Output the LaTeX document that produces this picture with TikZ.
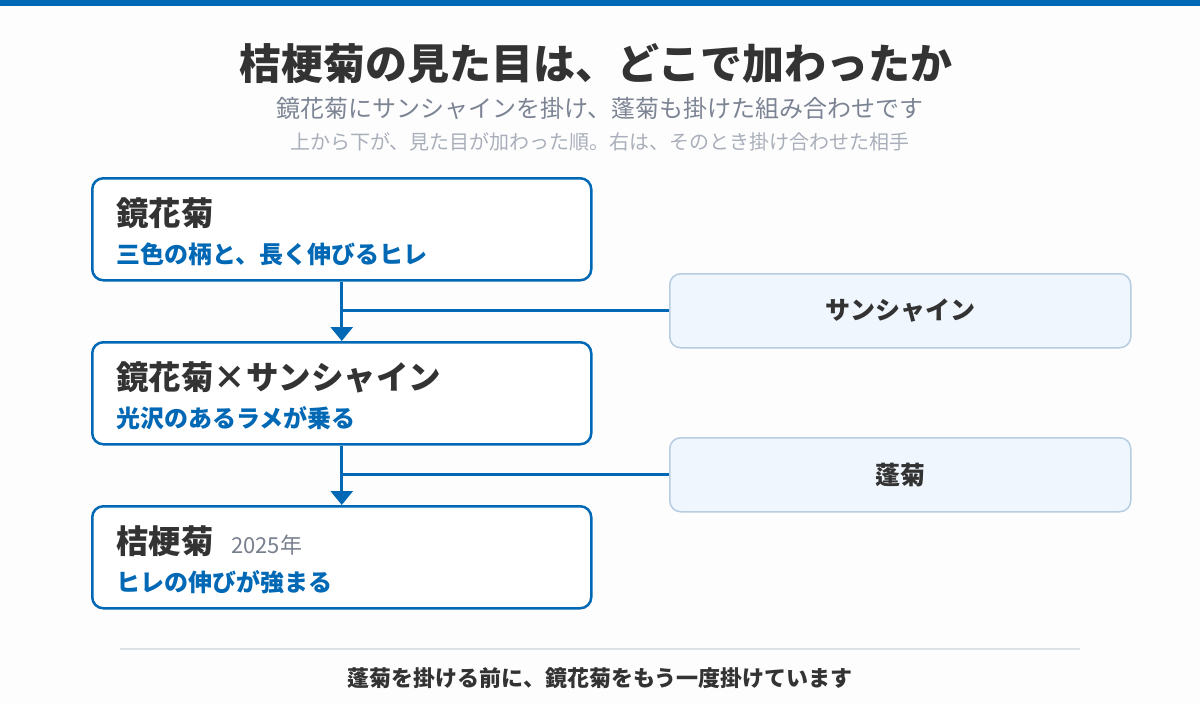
\documentclass[tikz,border=0pt]{standalone}
\usepackage{fontspec}
\setmainfont{Noto Sans CJK JP}
\usetikzlibrary{arrows.meta}
\definecolor{mainblue}{RGB}{0,104,180}
\definecolor{darktext}{RGB}{51,51,51}
\definecolor{subgray}{RGB}{124,132,148}
\definecolor{lightgray}{RGB}{169,175,186}
\definecolor{yeargray}{RGB}{120,128,142}
\definecolor{sidefill}{RGB}{239,246,253}
\definecolor{sideborder}{RGB}{183,205,226}
\definecolor{sepline}{RGB}{221,225,230}
\definecolor{bgc}{RGB}{253,253,253}
\tikzset{
  mainbox/.style={draw=mainblue, line width=2.5pt, rounded corners=11pt, fill=white,
    minimum width=499pt, minimum height=102pt, anchor=north west, inner sep=0pt},
  sidebox/.style={draw=sideborder, line width=1.5pt, rounded corners=11pt, fill=sidefill,
    minimum width=461pt, minimum height=74pt, anchor=north west, inner sep=0pt,
    font=\bfseries\fontsize{25}{29}\selectfont, text=darktext},
  boxtitle/.style={anchor=west, inner sep=0pt, text=darktext, font=\bfseries\fontsize{32.5}{38}\selectfont},
  boxsub/.style={anchor=west, inner sep=0pt, text=mainblue, font=\bfseries\fontsize{24}{28}\selectfont},
  conn/.style={draw=mainblue, line width=3pt},
  arrowconn/.style={conn, -{Triangle[width=22pt,length=14pt]}}
}
\begin{document}
\begin{tikzpicture}[x=1pt,y=-1pt]
\fill[bgc] (0,0) rectangle (1200,704);
\useasboundingbox (0,0) rectangle (1200,704);
\fill[mainblue] (0,0) rectangle (1200,6);
% headings
\node[inner sep=0pt, text=darktext, font=\bfseries\fontsize{42}{48}\selectfont] (title) at (596,64) {桔梗菊の見た目は、どこで加わったか};
\node[inner sep=0pt, text=subgray, font=\fontsize{24}{28}\selectfont] (subtitle) at (600,108) {鏡花菊にサンシャインを掛け、蓬菊も掛けた組み合わせです};
\node[inner sep=0pt, text=lightgray, font=\fontsize{20}{24}\selectfont] (subsub) at (600,142) {上から下が、見た目が加わった順。右は、そのとき掛け合わせた相手};
% main boxes
\node[mainbox] (b1) at (91,177) {};
\node[mainbox] (b2) at (91,341) {};
\node[mainbox] (b3) at (91,505) {};
\node[boxtitle] (t1) at (116,213) {鏡花菊};
\node[boxsub] (u1) at (116,254) {三色の柄と、長く伸びるヒレ};
\node[boxtitle] (t2) at (116,377) {鏡花菊×サンシャイン};
\node[boxsub] (u2) at (116,418) {光沢のあるラメが乗る};
\node[boxtitle] (t3) at (116,541) {桔梗菊};
\node[anchor=west, inner sep=0pt, text=yeargray, font=\fontsize{22}{26}\selectfont] (y3) at (231,545) {2025年};
\node[boxsub] (u3) at (116,582) {ヒレの伸びが強まる};
% side boxes
\node[sidebox] (s1) at (669,273) {サンシャイン};
\node[sidebox] (s2) at (669,437) {蓬菊};
% connectors
\draw[arrowconn] (b1.south) -- (b2.north);
\draw[arrowconn] (b2.south) -- (b3.north);
\coordinate (j1) at (b1.south |- s1.west);
\coordinate (j2) at (b2.south |- s2.west);
\draw[conn] (s1.west) -- (j1);
\draw[conn] (s2.west) -- (j2);
% footer
\coordinate (sepL) at (120,649);
\coordinate (sepR) at (1080,649);
\draw[sepline, line width=1.5pt] (sepL) -- (sepR);
\node[inner sep=0pt, text=darktext, font=\bfseries\fontsize{22}{26}\selectfont] (footer) at (600,678) {蓬菊を掛ける前に、鏡花菊をもう一度掛けています};
\end{tikzpicture}
\end{document}
